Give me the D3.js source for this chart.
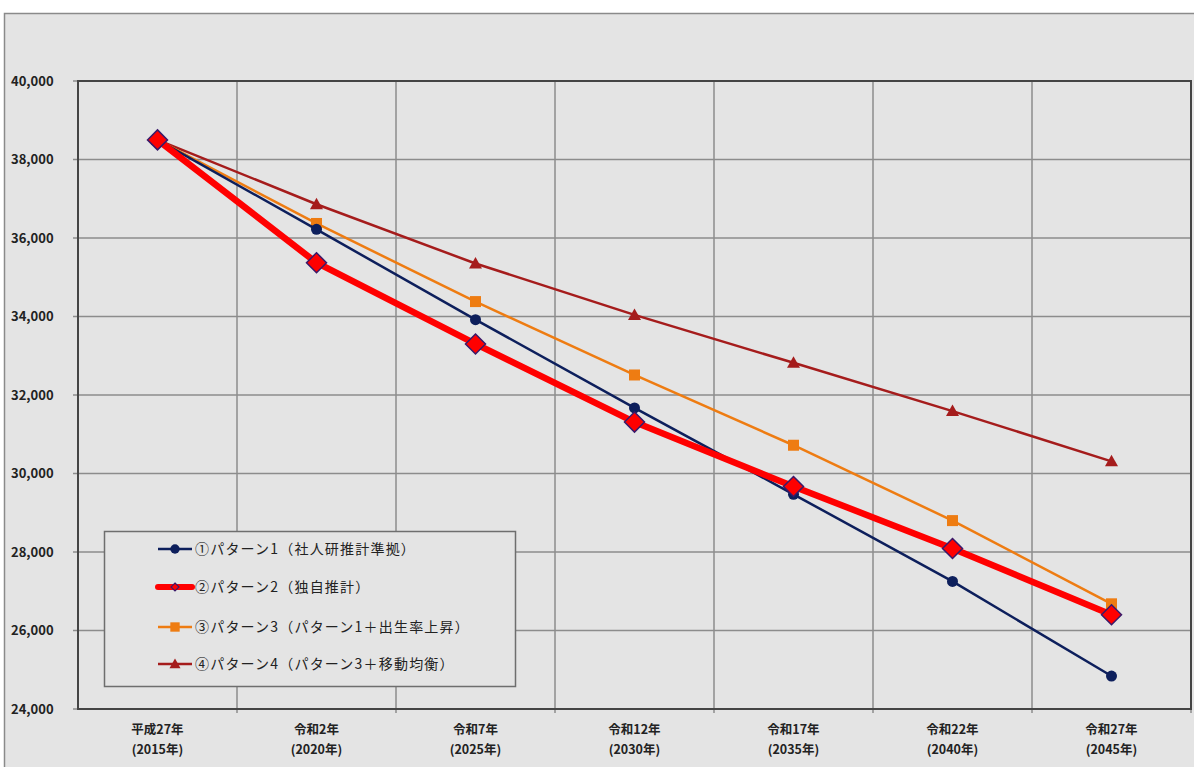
<!DOCTYPE html>
<html>
<head>
<meta charset="utf-8">
<script src="https://cdn.jsdelivr.net/npm/d3@7"></script>
<style>
  body { margin: 0; background: #fff; }
  svg text { font-family: "Noto Sans CJK JP", "Noto Sans", sans-serif; fill: #222; }
</style>
</head>
<body>
<div id="chart"></div>
<script>
// categories (x axis, two lines each)
var catTop = ["平成27年", "令和2年", "令和7年", "令和12年", "令和17年", "令和22年", "令和27年"];
var catBottom = ["(2015年)", "(2020年)", "(2025年)", "(2030年)", "(2035年)", "(2040年)", "(2045年)"];

// series values
var pattern1 = [38500, 36220, 33920, 31670, 29470, 27250, 24840];
var pattern2 = [38500, 35370, 33300, 31310, 29670, 28090, 26400];
var pattern3 = [38500, 36370, 34380, 32510, 30720, 28800, 26680];
var pattern4 = [38500, 36860, 35350, 34040, 32820, 31590, 30310];

var seriesNames = [
  "①パターン1（社人研推計準拠）",
  "②パターン2（独自推計）",
  "③パターン3（パターン1＋出生率上昇）",
  "④パターン4（パターン3＋移動均衡）"
];

var yTicks = [24000, 26000, 28000, 30000, 32000, 34000, 36000, 38000, 40000];

var W = 1194, H = 767;
var margin = { top: 81, right: 4, bottom: 58, left: 78 };
var width = 1191 - margin.left;
var height = 709 - margin.top;

var svg = d3.select("#chart").append("svg")
  .attr("width", W)
  .attr("height", H);

// outer chart frame
svg.append("rect")
  .attr("x", 4.5).attr("y", 13.5)
  .attr("width", W).attr("height", H)
  .attr("fill", "#e4e4e4")
  .attr("stroke", "#8a8a8a")
  .attr("stroke-width", 1.5);

var g = svg.append("g")
  .attr("transform", "translate(" + margin.left + "," + margin.top + ")");

var x = d3.scaleBand().domain(d3.range(catTop.length)).range([0, width]).padding(0);
var y = d3.scaleLinear().domain([24000, 40000]).range([height, 0]);

// horizontal gridlines
g.append("g")
  .selectAll("line")
  .data(yTicks)
  .enter().append("line")
  .attr("x1", -5).attr("x2", width)
  .attr("y1", function(d) { return y(d); })
  .attr("y2", function(d) { return y(d); })
  .attr("stroke", "#8c8c8c")
  .attr("stroke-width", 1.5);

// vertical gridlines at category boundaries
g.append("g")
  .selectAll("line")
  .data(d3.range(1, catTop.length + 1))
  .enter().append("line")
  .attr("x1", function(d) { return d * x.bandwidth(); })
  .attr("x2", function(d) { return d * x.bandwidth(); })
  .attr("y1", 0).attr("y2", height + 4)
  .attr("stroke", "#8c8c8c")
  .attr("stroke-width", 1.5);

// plot frame
g.append("rect")
  .attr("x", 0).attr("y", 0)
  .attr("width", width).attr("height", height)
  .attr("fill", "none")
  .attr("stroke", "#444")
  .attr("stroke-width", 2);

// y axis labels
var yAxis = d3.axisLeft(y).tickValues(yTicks).tickFormat(d3.format(",")).tickSize(0);
var ya = g.append("g").call(yAxis);
ya.select(".domain").remove();
ya.selectAll("text")
  .attr("text-anchor", "start")
  .attr("x", -67)
  .style("font-size", "13px")
  .style("font-weight", "bold")
  .attr("fill", "#333");

// x axis labels
var xa = g.append("g").attr("transform", "translate(0," + height + ")");
[catTop, catBottom].forEach(function(labels, row) {
  xa.append("g").selectAll("text")
    .data(labels)
    .enter().append("text")
    .attr("x", function(d, i) { return x(i) + x.bandwidth() / 2; })
    .attr("y", row === 0 ? 25 : 45)
    .attr("text-anchor", "middle")
    .style("font-size", "12.5px")
    .style("font-weight", "bold")
    .attr("fill", "#333")
    .text(function(d) { return d; });
});

var series = [
  { values: pattern1, color: "#0d1f5c", width: 2.5, marker: "circle" },
  { values: pattern2, color: "#ff0000", width: 6.5, marker: "diamond" },
  { values: pattern3, color: "#ee7c12", width: 2.5, marker: "square" },
  { values: pattern4, color: "#a51c1c", width: 2.5, marker: "triangle" }
];

var line = d3.line()
  .x(function(d, i) { return x(i) + x.bandwidth() / 2; })
  .y(function(d) { return y(d); });

function drawMarker(sel, s, size) {
  if (s.marker === "circle") {
    sel.append("circle").attr("r", 5.5 * size).attr("fill", s.color);
  } else if (s.marker === "diamond") {
    sel.append("path")
      .attr("d", "M0,-10L10,0L0,10L-10,0Z")
      .attr("transform", "scale(" + size + ")")
      .attr("fill", "#ff0000")
      .attr("stroke", "#3a1a6a")
      .attr("stroke-width", 1.5);
  } else if (s.marker === "square") {
    sel.append("rect")
      .attr("x", -5.5 * size).attr("y", -5.5 * size)
      .attr("width", 11 * size).attr("height", 11 * size)
      .attr("fill", s.color);
  } else {
    sel.append("path")
      .attr("d", "M0,-6.5L6.5,5L-6.5,5Z")
      .attr("transform", "scale(" + size + ")")
      .attr("fill", s.color);
  }
}

// draw order: 4, 3, 1, 2 so red is on top where they cross
[3, 2, 0, 1].forEach(function(k) {
  var s = series[k];
  g.append("path")
    .datum(s.values)
    .attr("d", line)
    .attr("fill", "none")
    .attr("stroke", s.color)
    .attr("stroke-width", s.width)
    .attr("stroke-linejoin", "round");
  g.append("g").selectAll("g")
    .data(s.values)
    .enter().append("g")
    .attr("transform", function(d, i) {
      return "translate(" + (x(i) + x.bandwidth() / 2) + "," + y(d) + ")";
    })
    .each(function() { drawMarker(d3.select(this), s, 1); });
});

// legend
var legend = svg.append("g").attr("transform", "translate(104,531)");
legend.append("rect")
  .attr("x", 0.5).attr("y", 0.5)
  .attr("width", 411).attr("height", 155)
  .attr("fill", "#e4e4e4")
  .attr("stroke", "#6e6e6e")
  .attr("stroke-width", 1.5);

var legendY = [18, 56, 96, 133];
series.forEach(function(s, k) {
  var row = legend.append("g").attr("transform", "translate(0," + legendY[k] + ")");
  row.append("line")
    .attr("x1", 54).attr("x2", 88)
    .attr("stroke", s.color)
    .attr("stroke-width", k === 1 ? 6 : 2.5)
    .attr("stroke-linecap", k === 1 ? "round" : "butt");
  var m = row.append("g").attr("transform", "translate(71,0)");
  if (k === 1) {
    m.append("path").attr("d", "M0,-4L4,0L0,4L-4,0Z")
      .attr("fill", "#ff0000").attr("stroke", "#3a1a6a").attr("stroke-width", 1.2);
  } else {
    drawMarker(m, s, 0.85);
  }
  row.append("text")
    .attr("x", 91).attr("y", 5)
    .style("font-size", "14px")
    .style("letter-spacing", "1.2px")
    .attr("fill", "#333")
    .text(seriesNames[k]);
});
</script>
</body>
</html>
